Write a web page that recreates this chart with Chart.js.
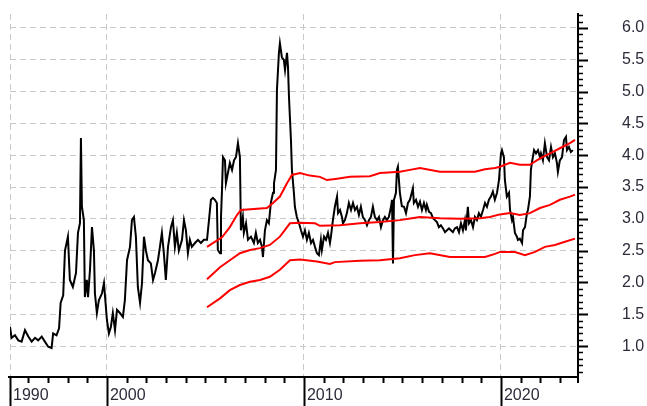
<!DOCTYPE html>
<html>
<head>
<meta charset="utf-8">
<script src="https://cdn.jsdelivr.net/npm/chart.js@4.4.1/dist/chart.umd.min.js"></script>
<style>
  body { margin: 0; background: #fff; }
  #wrap { width: 647px; height: 406px; }
</style>
</head>
<body>
<div id="wrap"><canvas id="myChart" width="647" height="406"></canvas></div>
<script>
// x range of the plot (left edge carries the "1990" label)
const xMin = 1995.08;
const xMax = 2023.86;
const decadeTicks = [1995.08, 2000, 2010, 2020];
const decadeLabels = ['1990', '2000', '2010', '2020'];
const yTickValues = [1.0, 1.5, 2.0, 2.5, 3.0, 3.5, 4.0, 4.5, 5.0, 5.5, 6.0];

// black series
const priceYears = [
  1995.08, 1995.16, 1995.33, 1995.50, 1995.67, 1995.84, 1996.01, 1996.18, 1996.35, 1996.51,
  1996.69, 1996.85, 1997.02, 1997.19, 1997.27, 1997.44, 1997.57, 1997.65, 1997.78, 1997.87,
  1998.02, 1998.12, 1998.27, 1998.43, 1998.53, 1998.63, 1998.68, 1998.73, 1998.83, 1998.88,
  1998.98, 1999.04, 1999.14, 1999.24, 1999.34, 1999.39, 1999.49, 1999.59, 1999.75, 1999.85,
  2000.00, 2000.10, 2000.20, 2000.30, 2000.41, 2000.51, 2000.66, 2000.81, 2000.91, 2001.02,
  2001.17, 2001.27, 2001.37, 2001.47, 2001.57, 2001.68, 2001.78, 2001.88, 2001.98, 2002.08,
  2002.23, 2002.34, 2002.44, 2002.59, 2002.69, 2002.79, 2002.89, 2002.99, 2003.10, 2003.25,
  2003.35, 2003.45, 2003.55, 2003.65, 2003.81, 2003.91, 2004.01, 2004.11, 2004.21, 2004.31,
  2004.47, 2004.62, 2004.77, 2004.92, 2005.08, 2005.18, 2005.28, 2005.38, 2005.48, 2005.58,
  2005.63, 2005.74, 2005.79, 2005.84, 2005.89, 2005.99, 2006.04, 2006.14, 2006.24, 2006.35,
  2006.45, 2006.55, 2006.65, 2006.75, 2006.80, 2006.90, 2006.95, 2007.06, 2007.16, 2007.31,
  2007.46, 2007.56, 2007.66, 2007.77, 2007.87, 2007.92, 2008.02, 2008.12, 2008.22, 2008.32,
  2008.43, 2008.48, 2008.58, 2008.63, 2008.73, 2008.78, 2008.88, 2008.98, 2009.04, 2009.14,
  2009.19, 2009.24, 2009.34, 2009.39, 2009.49, 2009.54, 2009.64, 2009.75, 2009.85, 2009.95,
  2010.05, 2010.15, 2010.25, 2010.36, 2010.46, 2010.56, 2010.66, 2010.76, 2010.86, 2010.91,
  2011.02, 2011.12, 2011.22, 2011.32, 2011.37, 2011.47, 2011.57, 2011.68, 2011.73, 2011.83,
  2011.93, 2011.98, 2012.08, 2012.18, 2012.28, 2012.39, 2012.49, 2012.59, 2012.69, 2012.79,
  2012.89, 2012.99, 2013.10, 2013.20, 2013.30, 2013.40, 2013.50, 2013.60, 2013.71, 2013.81,
  2013.91, 2014.01, 2014.11, 2014.21, 2014.31, 2014.42, 2014.47, 2014.52, 2014.57, 2014.67,
  2014.72, 2014.77, 2014.87, 2014.97, 2015.08, 2015.18, 2015.28, 2015.38, 2015.53, 2015.58,
  2015.69, 2015.79, 2015.89, 2015.99, 2016.09, 2016.19, 2016.24, 2016.35, 2016.45, 2016.55,
  2016.65, 2016.75, 2016.85, 2016.95, 2017.06, 2017.16, 2017.26, 2017.36, 2017.46, 2017.56,
  2017.66, 2017.77, 2017.87, 2017.97, 2018.07, 2018.17, 2018.22, 2018.32, 2018.38, 2018.48,
  2018.58, 2018.68, 2018.78, 2018.88, 2018.98, 2019.09, 2019.19, 2019.29, 2019.39, 2019.49,
  2019.59, 2019.69, 2019.80, 2019.90, 2020.00, 2020.05, 2020.15, 2020.20, 2020.30, 2020.41,
  2020.46, 2020.56, 2020.61, 2020.71, 2020.81, 2020.86, 2020.96, 2021.07, 2021.12, 2021.22,
  2021.32, 2021.37, 2021.47, 2021.52, 2021.57, 2021.68, 2021.78, 2021.88, 2021.98, 2022.03,
  2022.13, 2022.23, 2022.34, 2022.44, 2022.54, 2022.64, 2022.74, 2022.84, 2022.89, 2022.99,
  2023.10, 2023.20, 2023.30, 2023.35, 2023.45, 2023.55, 2023.65
];
const priceValues = [
  1.30, 1.13, 1.17, 1.09, 1.07, 1.25, 1.15, 1.07, 1.13, 1.09,
  1.15, 1.07, 0.99, 0.97, 1.20, 1.17, 1.28, 1.68, 1.80, 2.50,
  2.72, 2.04, 1.93, 2.15, 2.78, 2.93, 4.27, 3.19, 2.98, 1.77,
  2.04, 1.77, 2.20, 2.87, 2.50, 1.83, 1.52, 1.72, 1.83, 1.99,
  1.41, 1.20, 1.30, 1.52, 1.25, 1.57, 1.52, 1.46, 1.72, 2.35,
  2.56, 2.98, 3.03, 2.72, 1.93, 1.68, 1.99, 2.72, 2.50, 2.35,
  2.30, 2.04, 2.15, 2.35, 2.56, 2.78, 2.46, 2.04, 2.56, 2.87,
  2.98, 2.56, 2.78, 2.50, 2.67, 2.98, 2.82, 2.46, 2.67, 2.56,
  2.62, 2.67, 2.62, 2.67, 2.67, 2.98, 3.30, 3.33, 3.30, 3.25,
  2.51, 2.46, 3.03, 3.45, 3.97, 3.92, 3.56, 3.72, 3.88, 3.77,
  3.92, 3.97, 4.19, 3.97, 2.82, 3.03, 2.78, 2.93, 2.67, 2.72,
  2.62, 2.78, 2.62, 2.67, 2.56, 2.40, 2.82, 2.98, 2.93, 3.25,
  3.41, 3.56, 3.77, 5.03, 5.61, 5.76, 5.54, 5.50, 5.34, 5.61,
  5.39, 4.92, 4.24, 3.77, 3.41, 3.19, 3.03, 2.93, 2.82, 2.72,
  2.82, 2.67, 2.78, 2.62, 2.67, 2.56, 2.46, 2.43, 2.67, 2.51,
  2.72, 2.67, 2.78, 2.62, 2.72, 2.98, 3.19, 3.35, 3.09, 3.14,
  3.03, 2.93, 2.98, 3.09, 3.25, 3.14, 3.25, 3.14, 3.19, 3.06,
  3.19, 3.03, 2.98, 2.90, 2.98, 3.03, 3.19, 3.03, 2.98, 3.03,
  2.87, 2.98, 3.03, 2.98, 3.03, 3.19, 3.30, 2.30, 3.30, 3.41,
  3.77, 3.82, 3.41, 3.20, 3.19, 3.09, 3.25, 3.30, 3.48, 3.25,
  3.30, 3.19, 3.27, 3.14, 3.25, 3.14, 3.22, 3.11, 3.09, 3.01,
  2.98, 2.95, 2.87, 2.90, 2.85, 2.79, 2.82, 2.85, 2.82, 2.79,
  2.85, 2.87, 2.79, 2.93, 2.82, 2.98, 2.82, 3.19, 2.93, 2.98,
  2.87, 3.03, 2.98, 3.09, 3.03, 3.14, 3.25, 3.19, 3.30, 3.35,
  3.43, 3.30, 3.41, 3.61, 4.03, 4.08, 3.97, 3.61, 3.35, 3.41,
  3.14, 2.98, 3.03, 2.78, 2.72, 2.67, 2.69, 2.62, 2.82, 2.87,
  3.09, 3.14, 3.35, 3.77, 3.88, 4.08, 4.03, 4.08, 3.97, 4.03,
  3.92, 4.19, 3.97, 3.92, 4.13, 3.97, 4.03, 3.88, 3.74, 3.92,
  3.97, 4.24, 4.29, 4.08, 4.13, 4.05, 4.08
];

// red bands
const upperYears = [2005.08, 2005.84, 2006.24, 2006.60, 2006.80, 2008.12, 2008.43, 2008.78, 2009.14, 2009.39,
  2009.80, 2010.30, 2010.81, 2011.17, 2011.68, 2012.34, 2013.35, 2013.86, 2014.87, 2015.38,
  2015.89, 2016.90, 2017.92, 2018.68, 2019.19, 2019.70, 2019.95, 2020.46, 2020.96, 2021.47,
  2021.98, 2022.49, 2022.99, 2023.50, 2023.76];
const upperValues = [2.56, 2.71, 2.87, 3.06, 3.14, 3.17, 3.25, 3.35, 3.56, 3.69,
  3.72, 3.68, 3.66, 3.61, 3.63, 3.66, 3.67, 3.72, 3.74, 3.77,
  3.80, 3.74, 3.74, 3.74, 3.78, 3.80, 3.82, 3.88, 3.85, 3.85,
  3.95, 4.03, 4.11, 4.19, 4.24];

const middleYears = [2005.08, 2005.74, 2006.24, 2006.75, 2007.26, 2007.77, 2008.27, 2008.78, 2009.29, 2009.80,
  2010.56, 2010.81, 2011.83, 2012.84, 2013.86, 2014.87, 2015.48, 2015.89, 2016.90, 2017.92,
  2018.93, 2019.44, 2019.95, 2020.46, 2020.96, 2021.47, 2021.98, 2022.49, 2022.99, 2023.50, 2023.76];
const middleValues = [2.05, 2.24, 2.35, 2.46, 2.51, 2.54, 2.59, 2.72, 2.93, 2.94,
  2.93, 2.89, 2.90, 2.93, 2.95, 2.98, 3.01, 3.03, 3.01, 3.00,
  3.01, 3.03, 3.07, 3.09, 3.06, 3.09, 3.17, 3.22, 3.30, 3.35, 3.38];

const lowerYears = [2005.08, 2005.74, 2006.24, 2006.75, 2007.26, 2007.77, 2008.27, 2008.78, 2009.29, 2009.80,
  2010.66, 2011.32, 2011.57, 2012.84, 2013.86, 2014.87, 2015.63, 2016.40, 2017.41, 2018.43,
  2019.19, 2019.70, 2019.95, 2020.71, 2021.22, 2021.73, 2022.23, 2022.74, 2023.25, 2023.76];
const lowerValues = [1.61, 1.75, 1.88, 1.96, 2.01, 2.04, 2.09, 2.20, 2.35, 2.36,
  2.33, 2.29, 2.32, 2.34, 2.35, 2.38, 2.43, 2.46, 2.40, 2.40,
  2.40, 2.45, 2.48, 2.48, 2.43, 2.48, 2.56, 2.59, 2.64, 2.69];

const toPoints = (xs, ys) => xs.map((x, i) => ({ x: x, y: ys[i] }));

Chart.defaults.font.family = "'Liberation Sans', Arial, sans-serif";
Chart.defaults.font.size = 16;
Chart.defaults.color = '#2b2b3a';

// axis lines, year ticks and 0.1 minor ticks on the right
const axisPlugin = {
  id: 'axisPlugin',
  afterDraw(chart) {
    const ctx = chart.ctx;
    const xs = chart.scales.x;
    const ys = chart.scales.y;
    const area = chart.chartArea;
    ctx.save();
    ctx.strokeStyle = '#000';
    ctx.lineWidth = 2;
    ctx.beginPath();
    ctx.moveTo(area.left - 2, area.bottom + 1);
    ctx.lineTo(area.right + 1, area.bottom + 1);
    ctx.moveTo(area.right + 1, area.top - 1);
    ctx.lineTo(area.right + 1, area.bottom + 7);
    ctx.stroke();

    // yearly ticks
    for (let yr = 1996; yr <= 2023; yr++) {
      const px = Math.round(xs.getPixelForValue(yr)) + 0.5;
      const long = yr % 10 === 0;
      ctx.beginPath();
      ctx.moveTo(px, area.bottom);
      ctx.lineTo(px, long ? 406 : area.bottom + 7);
      ctx.stroke();
    }
    const p0 = Math.round(xs.getPixelForValue(xMin)) + 0.5;
    ctx.beginPath();
    ctx.moveTo(p0, area.bottom);
    ctx.lineTo(p0, 406);
    ctx.stroke();

    // minor ticks every 0.1 on the value axis
    for (let i = 6; i <= 62; i++) {
      const py = Math.round(ys.getPixelForValue(i / 10)) + 0.5;
      const major = i % 5 === 0;
      ctx.lineWidth = major ? 2 : 1.5;
      ctx.beginPath();
      ctx.moveTo(area.right + 1, py);
      ctx.lineTo(area.right + (major ? 11 : 6), py);
      ctx.stroke();
    }
    ctx.restore();
  }
};

const ctx = document.getElementById('myChart').getContext('2d');
const myChart = new Chart(ctx, {
  type: 'line',
  data: {
    datasets: [
      { data: toPoints(upperYears, upperValues), borderColor: '#ff0000', borderWidth: 2, order: 0 },
      { data: toPoints(middleYears, middleValues), borderColor: '#ff0000', borderWidth: 2, order: 0 },
      { data: toPoints(lowerYears, lowerValues), borderColor: '#ff0000', borderWidth: 2, order: 0 },
      { data: toPoints(priceYears, priceValues), borderColor: '#000000', borderWidth: 2, order: 1 }
    ]
  },
  options: {
    responsive: false,
    devicePixelRatio: 1,
    animation: false,
    layout: { padding: { left: 10, top: 14, right: 0, bottom: 0 } },
    elements: { point: { radius: 0 }, line: { tension: 0, borderJoinStyle: 'miter' } },
    plugins: { legend: { display: false }, tooltip: { enabled: false } },
    scales: {
      x: {
        type: 'linear',
        min: xMin,
        max: xMax,
        afterBuildTicks: s => { s.ticks = decadeTicks.map(v => ({ value: v })); },
        afterFit: s => { s.height = 30; },
        grid: { color: '#c8c8c8', lineWidth: 1, drawTicks: false },
        border: { display: false, dash: [6, 4] },
        ticks: {
          autoSkip: false,
          maxRotation: 0,
          align: 'start',
          labelOffset: 3,
          padding: 10,
          callback: (v, i) => decadeLabels[i]
        }
      },
      y: {
        position: 'right',
        min: 0.53,
        max: 6.22,
        afterBuildTicks: s => { s.ticks = yTickValues.map(v => ({ value: v })); },
        afterFit: s => { s.width = 70; },
        // invisible tick marks push the labels out to the right
        grid: { color: '#c8c8c8', lineWidth: 1, drawTicks: true, tickLength: 45, tickColor: 'rgba(0,0,0,0)' },
        border: { display: false, dash: [6, 4] },
        ticks: {
          padding: 0,
          callback: v => v.toFixed(1)
        }
      }
    }
  },
  plugins: [axisPlugin]
});
</script>
</body>
</html>
